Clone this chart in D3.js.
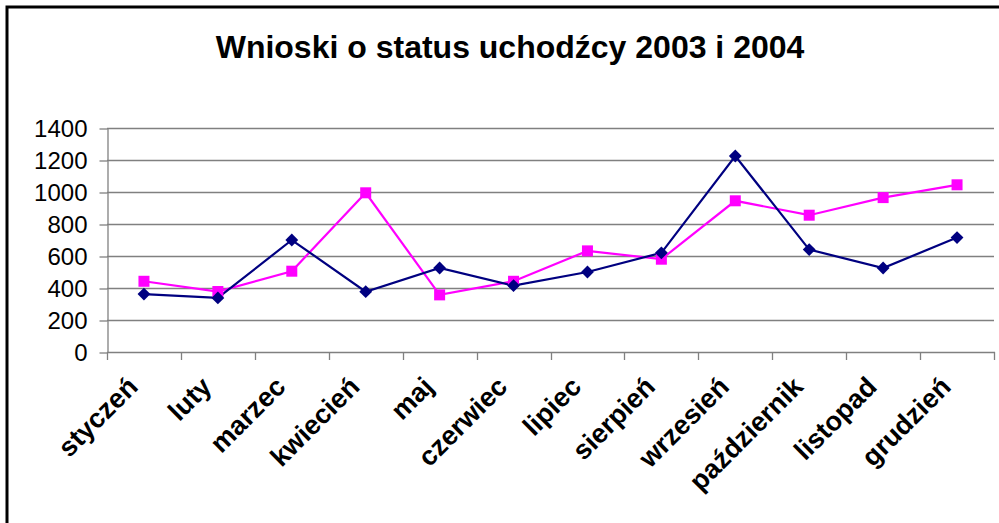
<!DOCTYPE html>
<html>
<head>
<meta charset="utf-8">
<script src="https://cdn.jsdelivr.net/npm/d3@7"></script>
<style>
  body { margin: 0; background: #fff; }
  svg { display: block; }
</style>
</head>
<body>
<div id="chart"></div>
<script>
// months and values
var months = ['styczeń','luty','marzec','kwiecień','maj','czerwiec','lipiec','sierpień','wrzesień','październik','listopad','grudzień'];
var values2003 = [362, 338, 700, 377, 525, 415, 500, 620, 1225, 640, 525, 715];
var values2004 = [442, 378, 505, 995, 357, 442, 632, 580, 945, 855, 965, 1045];
var yTicks = [0, 200, 400, 600, 800, 1000, 1200, 1400];
var title = 'Wnioski o status uchodźcy 2003 i 2004';

var W = 999, H = 523;
var plotLeft = 107, plotRight = 994, plotTop = 128, plotBottom = 352;

var svg = d3.select('#chart').append('svg')
  .attr('width', W)
  .attr('height', H);

svg.append('rect')
  .attr('width', W).attr('height', H)
  .attr('fill', '#fff');

// outer frame (runs off the right and bottom edge)
svg.append('rect')
  .attr('x', 7).attr('y', 7)
  .attr('width', W + 20).attr('height', H + 20)
  .attr('fill', 'none')
  .attr('stroke', '#000')
  .attr('stroke-width', 3);

svg.append('text')
  .attr('x', 510).attr('y', 58)
  .attr('text-anchor', 'middle')
  .style('font-family', 'Liberation Sans, Arial, sans-serif')
  .style('font-weight', 'bold')
  .style('font-size', '32px')
  .text(title);

var x = d3.scaleBand()
  .domain(months)
  .range([plotLeft, plotRight]);

var y = d3.scaleLinear()
  .domain([0, 1400])
  .range([plotBottom, plotTop]);

// gridlines
svg.append('g')
  .selectAll('line')
  .data(yTicks.slice(1))
  .enter()
  .append('line')
  .attr('x1', plotLeft).attr('x2', plotRight)
  .attr('y1', function(d){ return y(d) + 0.5; })
  .attr('y2', function(d){ return y(d) + 0.5; })
  .style('stroke', '#808080')
  .style('stroke-width', '1.3px');

var yAxis = d3.axisLeft(y)
  .tickValues(yTicks)
  .tickFormat(d3.format('d'))
  .tickSize(8)
  .tickPadding(12)
  .tickSizeOuter(0);

var gy = svg.append('g')
  .attr('transform', 'translate(' + (plotLeft + 0.5) + ',0.5)')
  .call(yAxis);
gy.selectAll('path, line').style('stroke', '#808080').style('stroke-width', '1.3px');
gy.selectAll('text')
  .style('font-family', 'Liberation Sans, Arial, sans-serif')
  .style('font-size', '24px')
  .attr('fill', '#000');

// x axis with ticks on category boundaries
var bounds = d3.range(months.length + 1).map(function(i){ return plotLeft + i * x.step(); });
svg.append('line')
  .attr('x1', plotLeft).attr('x2', plotRight + 1)
  .attr('y1', plotBottom + 0.5).attr('y2', plotBottom + 0.5)
  .style('stroke', '#808080')
  .style('stroke-width', '1.3px');
svg.append('g')
  .selectAll('line')
  .data(bounds)
  .enter()
  .append('line')
  .attr('x1', function(d){ return Math.round(d) + 0.5; })
  .attr('x2', function(d){ return Math.round(d) + 0.5; })
  .attr('y1', plotBottom).attr('y2', plotBottom + 8)
  .style('stroke', '#808080')
  .style('stroke-width', '1.3px');

svg.append('g')
  .selectAll('text')
  .data(months)
  .enter()
  .append('text')
  .attr('transform', function(d){
    var cx = x(d) + x.bandwidth() / 2;
    return 'translate(' + (cx - 18) + ',' + (plotBottom + 23) + ') rotate(-45)';
  })
  .attr('text-anchor', 'end')
  .attr('dy', '0.7em')
  .style('font-family', 'Liberation Sans, Arial, sans-serif')
  .style('font-weight', 'bold')
  .style('font-size', '27px')
  .text(function(d){ return d; });

function cx(i){ return x(months[i]) + x.bandwidth() / 2; }

var line = d3.line()
  .x(function(d, i){ return cx(i); })
  .y(function(d){ return y(d); });

// 2004 magenta squares
svg.append('path')
  .datum(values2004)
  .attr('d', line)
  .attr('fill', 'none')
  .attr('stroke', '#ff00ff')
  .attr('stroke-width', 2.2);

// 2003 navy diamonds
svg.append('path')
  .datum(values2003)
  .attr('d', line)
  .attr('fill', 'none')
  .attr('stroke', '#000080')
  .attr('stroke-width', 2.2);

svg.append('g')
  .selectAll('rect')
  .data(values2004)
  .enter()
  .append('rect')
  .attr('x', function(d, i){ return cx(i) - 5.5; })
  .attr('y', function(d){ return y(d) - 5.5; })
  .attr('width', 11).attr('height', 11)
  .attr('fill', '#ff00ff');

var diamond = d3.symbol().type(d3.symbolDiamond2).size(105);
svg.append('g')
  .selectAll('path')
  .data(values2003)
  .enter()
  .append('path')
  .attr('transform', function(d, i){ return 'translate(' + cx(i) + ',' + y(d) + ')'; })
  .attr('d', diamond)
  .attr('fill', '#000080');
</script>
</body>
</html>
